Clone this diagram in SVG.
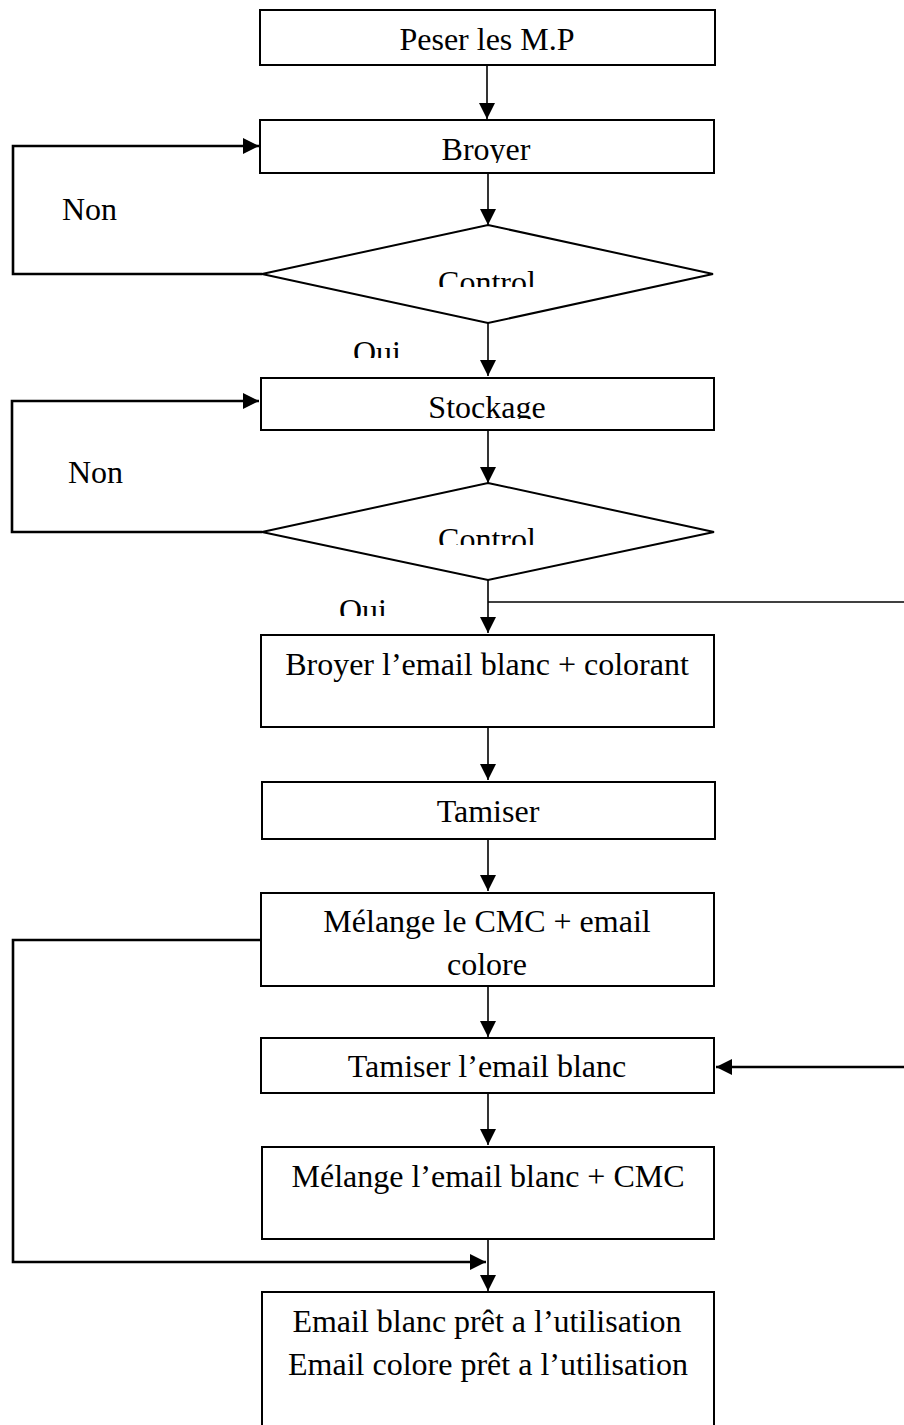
<svg xmlns="http://www.w3.org/2000/svg" width="904" height="1425" viewBox="0 0 904 1425">
<style>
.box{fill:#fff;stroke:#000;stroke-width:2}
.t{font-family:"Liberation Serif","Times New Roman",serif;font-size:32px;fill:#000}
.c{text-anchor:middle}
.ar{fill:none;stroke:#000;stroke-width:1.6}
.lp{fill:none;stroke:#000;stroke-width:2.6}
</style>
<defs>
<marker id="ah" markerUnits="userSpaceOnUse" markerWidth="16" markerHeight="16" refX="16" refY="8" orient="auto"><path d="M0,0 L16,8 L0,16 z" fill="#000"/></marker>
<clipPath id="cpBroyer"><rect x="0" y="0" width="904" height="163"/></clipPath>
<clipPath id="cpC1"><rect x="0" y="0" width="904" height="287"/></clipPath>
<clipPath id="cpO1"><rect x="0" y="0" width="904" height="358"/></clipPath>
<clipPath id="cpStock"><rect x="0" y="0" width="904" height="419"/></clipPath>
<clipPath id="cpC2"><rect x="0" y="0" width="904" height="545"/></clipPath>
<clipPath id="cpO2"><rect x="0" y="0" width="904" height="616"/></clipPath>
</defs>
<rect width="904" height="1425" fill="#fff"/>

<g id="connectors">
<path class="ar" d="M487,65 V119" marker-end="url(#ah)"/>
<path class="ar" d="M488,173 V225" marker-end="url(#ah)"/>
<path class="lp" d="M262,274 H13 V146 H259" marker-end="url(#ah)"/>
<path class="ar" d="M488,323 V376" marker-end="url(#ah)"/>
<path class="ar" d="M488,430 V483" marker-end="url(#ah)"/>
<path class="lp" d="M262,532 H12 V401 H259" marker-end="url(#ah)"/>
<path class="ar" d="M488,580 V633" marker-end="url(#ah)"/>
<path class="ar" d="M488,602 H906"/>
<path class="ar" d="M488,727 V780" marker-end="url(#ah)"/>
<path class="ar" d="M488,839 V891" marker-end="url(#ah)"/>
<path class="lp" d="M261,940 H13 V1262 H486" marker-end="url(#ah)"/>
<path class="ar" d="M488,986 V1037" marker-end="url(#ah)"/>
<path class="lp" d="M906,1067 H716" marker-end="url(#ah)"/>
<path class="ar" d="M488,1093 V1145" marker-end="url(#ah)"/>
<path class="ar" d="M488,1239 V1291" marker-end="url(#ah)"/>
<text class="t" x="62" y="220">Non</text>
<text class="t" x="68" y="483">Non</text>
<g clip-path="url(#cpO1)"><text class="t" x="353" y="363">Oui</text></g>
<g clip-path="url(#cpO2)"><text class="t" x="339" y="621">Oui</text></g>
</g>

<g id="n1"><rect class="box" x="260" y="10" width="455" height="55"/><text class="t c" x="487" y="50">Peser les M.P</text></g>
<g id="n2"><rect class="box" x="260" y="120" width="454" height="53"/><g clip-path="url(#cpBroyer)"><text class="t c" x="486" y="160">Broyer</text></g></g>
<g id="d1"><polygon class="box" points="488,225 713,274 488,323 262,274"/><g clip-path="url(#cpC1)"><text class="t c" x="487" y="293">Control</text></g></g>
<g id="n3"><rect class="box" x="261" y="378" width="453" height="52"/><g clip-path="url(#cpStock)"><text class="t c" x="487" y="418">Stockage</text></g></g>
<g id="d2"><polygon class="box" points="488,483 714,532 488,580 262,532"/><g clip-path="url(#cpC2)"><text class="t c" x="487" y="550">Control</text></g></g>
<g id="n4"><rect class="box" x="261" y="635" width="453" height="92"/><text class="t c" x="487" y="675">Broyer l’email blanc + colorant</text></g>
<g id="n5"><rect class="box" x="262" y="782" width="453" height="57"/><text class="t c" x="488" y="822">Tamiser</text></g>
<g id="n6"><rect class="box" x="261" y="893" width="453" height="93"/><text class="t c" x="487" y="932">Mélange le CMC + email</text><text class="t c" x="487" y="975">colore</text></g>
<g id="n7"><rect class="box" x="261" y="1038" width="453" height="55"/><text class="t c" x="487" y="1077">Tamiser l’email blanc</text></g>
<g id="n8"><rect class="box" x="262" y="1147" width="452" height="92"/><text class="t c" x="488" y="1187">Mélange l’email blanc + CMC</text></g>
<g id="n9"><rect class="box" x="262" y="1292" width="452" height="140"/><text class="t c" x="487" y="1332">Email blanc prêt a l’utilisation</text><text class="t c" x="488" y="1375">Email colore prêt a l’utilisation</text></g>
</svg>
